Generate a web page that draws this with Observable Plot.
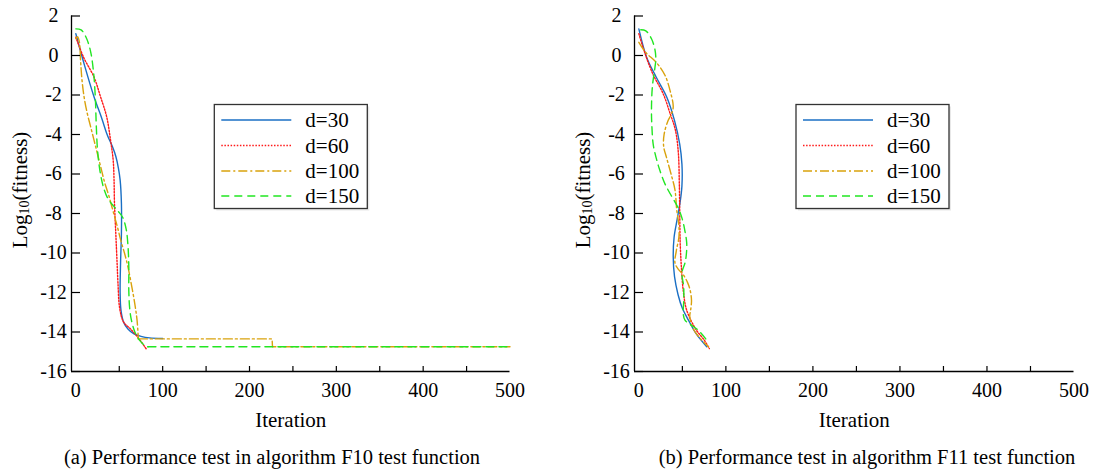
<!DOCTYPE html>
<html>
<head>
<meta charset="utf-8">
<script src="https://cdn.jsdelivr.net/npm/d3@7"></script>
<script src="https://cdn.jsdelivr.net/npm/@observablehq/plot@0.6"></script>
<style>
  html, body { margin: 0; padding: 0; background: #fff; }
  #wrap { position: relative; width: 1097px; height: 473px; overflow: hidden; font-family: "Liberation Serif", "Times New Roman", Times, "DejaVu Serif", serif; }
  .panel { position: absolute; top: 0; }
  .cap { position: absolute; top: 446px; font-size: 20.5px; white-space: nowrap; transform: translateX(-50%); color: #000; }
</style>
</head>
<body>
<div id="wrap">
  <div class="panel" id="pa" style="left:0px"></div>
  <div class="panel" id="pb" style="left:563px"></div>
  <div class="cap" style="left:272px">(a) Performance test in algorithm F10 test function</div>
  <div class="cap" style="left:867px">(b) Performance test in algorithm F11 test function</div>
</div>
<script>
// ---------- data ----------
const seriesNames = ["d=30", "d=60", "d=100", "d=150"];
const xTicks = [0, 100, 200, 300, 400, 500];
const yTicks = [-16, -14, -12, -10, -8, -6, -4, -2, 0, 2];

// Panel (a) F10
const f10_d30_x = [0, 10, 21, 30, 36, 42, 46, 49, 51, 52.5, 52.5, 51.5, 51, 52, 55, 60, 67, 75, 85, 100];
const f10_d30_y = [1.1, -0.5, -2.1, -3.2, -4.0, -4.6, -5.1, -5.7, -6.3, -7.5, -9.0, -10.5, -12.0, -12.9, -13.5, -13.85, -14.1, -14.22, -14.3, -14.33];
const f10_d60_x = [0, 9, 21, 28.5, 35.5, 40, 43, 44, 44.5, 46, 47.5, 48.5, 50.5, 55, 63, 72, 81];
const f10_d60_y = [0.93, -0.1, -1.1, -2.1, -3.1, -4.3, -5.3, -6.3, -7.5, -9.0, -10.5, -11.5, -12.8, -13.5, -13.85, -14.3, -14.85];
const f10_d100_x = [0, 2, 4, 5.5, 7, 9.5, 13, 17, 21, 25, 29, 33, 38, 43, 48, 52, 56, 60, 64, 68, 70.5, 72, 226, 226.5, 500];
const f10_d100_y = [0.85, 0.95, 0.7, -0.3, -1.2, -2.1, -2.9, -3.6, -4.3, -5.0, -5.7, -6.4, -7.1, -7.9, -8.7, -9.4, -10.0, -10.7, -11.6, -12.6, -13.4, -14.35, -14.35, -14.75, -14.75];
const f10_d150_x = [0, 6, 12, 17, 20.5, 22.5, 23.5, 25, 28, 32, 37, 43, 49, 54, 58, 60, 61, 61, 62, 64, 68, 73, 80, 83, 500];
const f10_d150_y = [1.35, 1.3, 0.9, 0.2, -0.9, -2.2, -3.5, -4.8, -5.9, -6.7, -7.25, -7.6, -7.9, -8.2, -8.8, -9.6, -10.7, -11.9, -12.8, -13.4, -14.0, -14.4, -14.7, -14.75, -14.75];

// Panel (b) F11
const f11_d30_x = [0, 9, 20, 32, 41, 47, 49.5, 49.5, 47.5, 44, 40.5, 39.5, 41, 45, 50, 57, 66, 78];
const f11_d30_y = [1.35, -0.1, -1.1, -2.1, -3.3, -4.5, -5.5, -6.6, -7.4, -8.3, -9.2, -10.2, -11.2, -12.1, -12.8, -13.4, -14.1, -14.75];
const f11_d60_x = [0, 6, 16, 28, 36, 41, 43, 45.5, 46.5, 47, 47.5, 49, 51, 55, 66, 75, 81];
const f11_d60_y = [1.1, 0.25, -0.93, -1.94, -2.95, -3.6, -4.0, -5.0, -6.5, -8.0, -9.5, -10.8, -11.9, -12.9, -13.9, -14.4, -14.84];
const f11_d100_x = [0, 8, 20, 30, 36, 39.5, 37, 33.5, 29, 28.5, 32, 37, 41.5, 43.5, 46, 46, 43, 41.5, 45, 51, 56, 59, 60.5, 59.5, 58.5, 62, 70, 80];
const f11_d100_y = [0.67, 0.15, -0.35, -1.0, -1.8, -2.6, -3.0, -3.3, -4.0, -4.6, -5.2, -6.0, -6.8, -7.8, -8.6, -9.2, -9.9, -10.5, -10.8, -11.1, -11.5, -11.9, -12.4, -12.9, -13.2, -13.8, -14.3, -14.75];
const f11_d150_x = [2, 8, 14.5, 18.5, 19.5, 18.5, 15.5, 14.5, 15, 16.5, 20, 24, 30, 36, 45, 50, 53, 55, 54.5, 53, 49.5, 51.5, 51.5, 51, 53, 58.5, 68, 76, 79];
const f11_d150_y = [1.3, 1.25, 0.85, 0.3, -0.2, -0.6, -1.6, -2.8, -3.6, -4.5, -5.2, -5.8, -6.5, -7.0, -7.7, -8.3, -8.9, -9.5, -10.1, -10.5, -11.0, -11.7, -12.5, -13.1, -13.4, -13.6, -13.9, -14.3, -14.5];

// ---------- styles ----------
const styles = {
  "d=30":  {stroke: "#1a6fc4", strokeWidth: 1.4, strokeDasharray: null},
  "d=60":  {stroke: "#ff1a1a", strokeWidth: 1.4, strokeDasharray: "1.5,1.6"},
  "d=100": {stroke: "#d9a20c", strokeWidth: 1.4, strokeDasharray: "9,3,2,3"},
  "d=150": {stroke: "#22e622", strokeWidth: 1.4, strokeDasharray: "8,5"}
};
const FONT = '"Liberation Serif", "Times New Roman", Times, "DejaVu Serif", serif';

function rows(xs, ys) { return xs.map((x, i) => ({x, y: ys[i], i})); }

// smoothUntil: index of the last point drawn smoothly; the flat tail after it is drawn straight
function panel(el, series, smoothUntil, W, marginRight, legendX) {
  const H = 440, mTop = 15.5, mBottom = H - 371, mLeft = 71;
  const lineMarks = [];
  seriesNames.forEach((name, k) => {
    const s = styles[name];
    const data = rows(series[k][0], series[k][1]);
    const cut = smoothUntil[k] == null ? data.length - 1 : smoothUntil[k];
    const opts = {x: "x", y: "y", stroke: s.stroke, strokeWidth: s.strokeWidth, strokeDasharray: s.strokeDasharray};
    lineMarks.push(Plot.line(data.filter(d => d.i <= cut), {...opts, curve: "catmull-rom"}));
    if (cut < data.length - 1) lineMarks.push(Plot.line(data.filter(d => d.i >= cut), {...opts, curve: "linear"}));
  });
  const svg = Plot.plot({
    width: W, height: H,
    marginLeft: mLeft, marginRight, marginTop: mTop, marginBottom: mBottom,
    x: {domain: [-5, 500]},
    y: {domain: [-16, 2]},
    style: {fontFamily: FONT, fontSize: "20px", color: "#000", background: "transparent", overflow: "visible"},
    marks: [
      ...lineMarks,
      Plot.ruleX([-5], {stroke: "#000", strokeWidth: 1.3}),
      Plot.ruleY([-16], {stroke: "#000", strokeWidth: 1.3}),
      Plot.axisX({ticks: [50, 100, 150, 200, 250, 300, 350, 400, 450], tickSize: -5, tickFormat: () => "", label: null, strokeWidth: 1.2}),
      Plot.axisX({ticks: xTicks, tickSize: 0, tickPadding: 11, label: null, fontSize: 20}),
      Plot.axisY({ticks: yTicks, tickSize: -9, tickFormat: () => "", label: null, strokeWidth: 1.2}),
      Plot.axisY({ticks: yTicks, tickSize: 0, tickPadding: 18, textAnchor: "middle", label: null, fontSize: 20, tickFormat: d => d < 0 ? "-" + Math.abs(d) : String(d)}),
      Plot.text(["Iteration"], {frameAnchor: "bottom", dy: 55, fontSize: 21, fill: "#000"})
    ]
  });
  const g = d3.select(svg);
  // y-axis label with subscript
  const t = g.append("text")
    .attr("transform", "translate(22,190) rotate(-90)")
    .attr("text-anchor", "middle")
    .attr("dominant-baseline", "middle")
    .style("font-family", FONT).style("font-size", "21px").attr("fill", "#000");
  t.append("tspan").text("Log");
  t.append("tspan").style("font-size", "14px").attr("dy", 4).text("10");
  t.append("tspan").attr("dy", -4).style("font-size", "21px").text("(fitness)");
  // legend
  const bx = legendX, by = 104.5, bw = 153, bh = 104;
  const lg = g.append("g");
  lg.append("rect").attr("x", bx + 2).attr("y", by + 2).attr("width", bw).attr("height", bh).attr("fill", "#e8e8e8");
  lg.append("rect").attr("x", bx).attr("y", by).attr("width", bw).attr("height", bh)
    .attr("fill", "#fff").attr("stroke", "#333").attr("stroke-width", 1.3);
  const rowsY = [120, 145.5, 171, 196];
  seriesNames.forEach((name, i) => {
    const s = styles[name];
    lg.append("line").attr("x1", bx + 7).attr("x2", bx + 77).attr("y1", rowsY[i]).attr("y2", rowsY[i])
      .attr("stroke", s.stroke).attr("stroke-width", s.strokeWidth)
      .attr("stroke-dasharray", s.strokeDasharray);
    lg.append("text").attr("x", bx + 91).attr("y", rowsY[i]).attr("dy", "0.35em")
      .attr("text-anchor", "start")
      .style("font-family", FONT).style("font-size", "21px").attr("fill", "#000").text(name);
  });
  el.appendChild(svg);
}

panel(document.getElementById("pa"),
  [[f10_d30_x, f10_d30_y], [f10_d60_x, f10_d60_y], [f10_d100_x, f10_d100_y], [f10_d150_x, f10_d150_y]],
  [null, null, 21, 23], 540, 30.5, 214.3);
panel(document.getElementById("pb"),
  [[f11_d30_x, f11_d30_y], [f11_d60_x, f11_d60_y], [f11_d100_x, f11_d100_y], [f11_d150_x, f11_d150_y]],
  [null, null, null, null], 534, 23.5, 796 - 563);
</script>
</body>
</html>
